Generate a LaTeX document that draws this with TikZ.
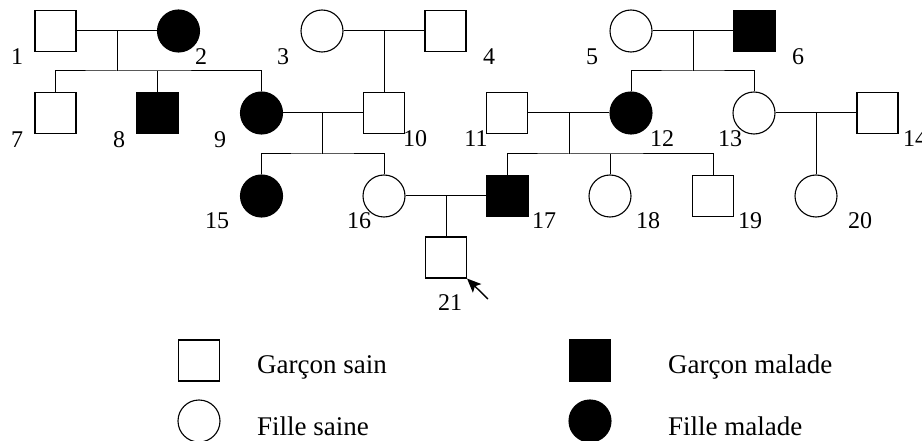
\documentclass[tikz,border=0pt]{standalone}
\usepackage{fontspec}
\setmainfont{Liberation Serif}
\usetikzlibrary{arrows.meta}
\begin{document}
\begin{tikzpicture}[x=1pt,y=-1pt,
  boy/.style={rectangle, draw, line width=1.1pt, minimum width=41pt, minimum height=41pt, inner sep=0pt},
  girl/.style={circle, draw, line width=1.1pt, minimum size=42pt, inner sep=0pt},
  ill/.style={fill=black},
  lab/.style={font=\fontsize{24}{28}\selectfont, inner sep=0pt},
  link/.style={line width=1pt},
  leg/.style={font=\fontsize{27}{32}\selectfont, anchor=base west, inner sep=0pt}]
\useasboundingbox (0,0) rectangle (922,441);
% generation 1
\node[boy] (n1) at (55.5,31) {};
\node[girl,ill] (n2) at (178.5,31) {};
\node[girl] (n3) at (322,31) {};
\node[boy] (n4) at (445.5,31) {};
\node[girl] (n5) at (631,31) {};
\node[boy,ill] (n6) at (754.5,31) {};
% generation 2
\node[boy] (n7) at (55.5,113) {};
\node[boy,ill] (n8) at (157.5,113) {};
\node[girl,ill] (n9) at (261.5,113) {};
\node[boy] (n10) at (384,113) {};
\node[boy] (n11) at (507,113) {};
\node[girl,ill] (n12) at (631,113) {};
\node[girl] (n13) at (754,113) {};
\node[boy] (n14) at (877.5,113) {};
% generation 3
\node[girl,ill] (n15) at (261.5,196) {};
\node[girl] (n16) at (384,196) {};
\node[boy,ill] (n17) at (507.5,196) {};
\node[girl] (n18) at (610,196) {};
\node[boy] (n19) at (713,196) {};
\node[girl] (n20) at (816,196) {};
% generation 4
\node[boy] (n21) at (446,257.5) {};
% coordinates
\coordinate (m12) at (117,31);
\coordinate (s12) at (117,71);
\coordinate (m34) at (384,31);
\coordinate (m56) at (693,31);
\coordinate (s56) at (693,71);
\coordinate (m910) at (322,113);
\coordinate (s910) at (322,154);
\coordinate (m1112) at (569,113);
\coordinate (s1112) at (569,154);
\coordinate (m1314) at (816,113);
\coordinate (m1617) at (446,196);
\coordinate (arrtail) at (488,299);
% connectors
\draw[link] (n1) -- (n2);
\draw[link] (m12) -- (s12);
\draw[link] (n7) |- (s12) -| (n9);
\draw[link] (n8) -- (n8 |- s12);
\draw[link] (n3) -- (n4);
\draw[link] (m34) -- (n10);
\draw[link] (n5) -- (n6);
\draw[link] (m56) -- (s56);
\draw[link] (n12) |- (s56) -| (n13);
\draw[link] (n9) -- (n10);
\draw[link] (m910) -- (s910);
\draw[link] (n15) |- (s910) -| (n16);
\draw[link] (n11) -- (n12);
\draw[link] (m1112) -- (s1112);
\draw[link] (n17) |- (s1112) -| (n19);
\draw[link] (n18) -- (n18 |- s1112);
\draw[link] (n13) -- (n14);
\draw[link] (m1314) -- (n20);
\draw[link] (n16) -- (n17);
\draw[link] (m1617) -- (n21);
\draw[line width=1.4pt, -{Stealth[length=14pt,width=12pt,inset=3pt]}] (arrtail) -- (n21.south east);
% labels
\node[lab] (l1) at (17,57) {1};
\node[lab] (l2) at (201,57) {2};
\node[lab] (l3) at (283,57) {3};
\node[lab] (l4) at (489,57) {4};
\node[lab] (l5) at (592,57) {5};
\node[lab] (l6) at (798,57) {6};
\node[lab] (l7) at (17,140) {7};
\node[lab] (l8) at (119,140) {8};
\node[lab] (l9) at (220,140) {9};
\node[lab] (l10) at (415,139) {10};
\node[lab] (l11) at (476,139) {11};
\node[lab] (l12) at (662,139) {12};
\node[lab] (l13) at (730,139) {13};
\node[lab] (l14) at (915,139) {14};
\node[lab] (l15) at (217,221) {15};
\node[lab] (l16) at (359,221) {16};
\node[lab] (l17) at (544,221) {17};
\node[lab] (l18) at (648,221) {18};
\node[lab] (l19) at (750,221) {19};
\node[lab] (l20) at (860,221) {20};
\node[lab] (l21) at (450,303) {21};
% legend
\node[boy] (lgb) at (199,360.5) {};
\node[leg] (tgb) at (257,373) {Garçon sain};
\node[boy,ill] (lgi) at (590,360.5) {};
\node[leg] (tgi) at (668,373) {Garçon malade};
\node[girl] (lgg) at (199,421) {};
\node[leg] (tgg) at (257,435) {Fille saine};
\node[girl,ill] (lgf) at (590,421) {};
\node[leg] (tgf) at (668,435) {Fille malade};
\end{tikzpicture}
\end{document}
